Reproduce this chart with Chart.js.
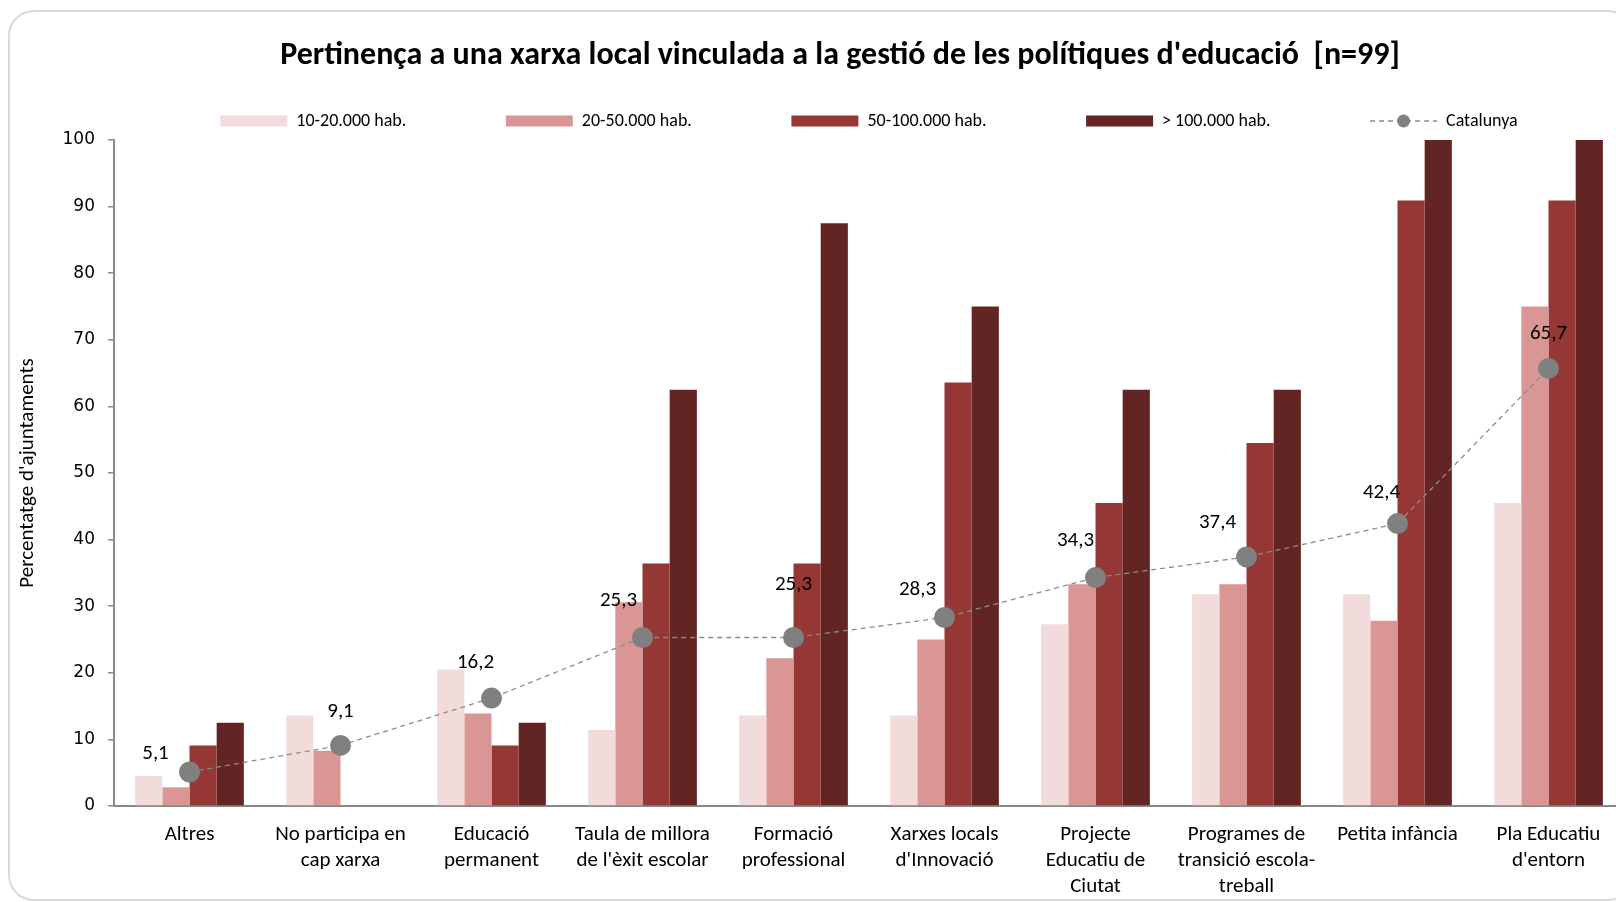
<!DOCTYPE html>
<html>
<head>
<meta charset="utf-8">
<script src="https://cdn.jsdelivr.net/npm/chart.js@4.4.1/dist/chart.umd.min.js"></script>
<style>
  html, body { margin: 0; padding: 0; background: #fff; overflow: hidden; width: 1616px; height: 902px; }
  .card { position: absolute; left: 8px; top: 10px; width: 1626px; height: 891px; border: 2px solid #d9d9d9; border-radius: 26px; box-sizing: border-box; }
  #chart { position: absolute; left: 0; top: 0; width: 1680px; height: 902px; }
</style>
</head>
<body>
<div class="card"></div>
<canvas id="chart" width="1680" height="902"></canvas>
<script>
/* Pertinença a una xarxa local — bars per mida de municipi + línia Catalunya */
const FONT = 'Carlito, Lato, sans-serif';
const TITLE = "Pertinença a una xarxa local vinculada a la gestió de les polítiques d'educació  [n=99]";

const categories = [
  ['Altres'],
  ['No participa en', 'cap xarxa'],
  ['Educació', 'permanent'],
  ['Taula de millora', "de l'èxit escolar"],
  ['Formació', 'professional'],
  ['Xarxes locals', "d'Innovació"],
  ['Projecte', 'Educatiu de', 'Ciutat'],
  ['Programes de', 'transició escola-', 'treball'],
  ['Petita infància'],
  ['Pla Educatiu', "d'entorn"]
];
const seriesNames = ['10-20.000 hab.', '20-50.000 hab.', '50-100.000 hab.', '> 100.000 hab.', 'Catalunya'];
const hab10_20 = [4.5, 13.6, 20.5, 11.4, 13.6, 13.6, 27.3, 31.8, 31.8, 45.5];
const hab20_50 = [2.8, 8.3, 13.9, 30.6, 22.2, 25.0, 33.3, 33.3, 27.8, 75.0];
const hab50_100 = [9.1, 0, 9.1, 36.4, 36.4, 63.6, 45.5, 54.5, 90.9, 90.9];
const hab100 = [12.5, 0, 12.5, 62.5, 87.5, 75.0, 62.5, 62.5, 100, 100];
const catalunya = [5.1, 9.1, 16.2, 25.3, 25.3, 28.3, 34.3, 37.4, 42.4, 65.7];
const yTicks = [0, 10, 20, 30, 40, 50, 60, 70, 80, 90, 100];

// nudges for the Catalunya value labels, relative to each point (px)
const labelNudge = [[-34, -18], [0, -34], [-16, -35], [-24, -37], [0, -53], [-27, -28], [-20, -37], [-29, -34], [-16, -31], [0, -35]];

const barColors = ['#f2dcdb', '#d99694', '#953735', '#632523'];
const lineColor = '#8c8c8c';
const dotColor = '#808080';

// legend icon for the line series: dashed line with a dot
const catIcon = document.createElement('canvas');
catIcon.width = 67; catIcon.height = 14;
(() => {
  const c = catIcon.getContext('2d');
  c.strokeStyle = lineColor; c.lineWidth = 1.3; c.setLineDash([5, 4]);
  c.beginPath(); c.moveTo(0, 7); c.lineTo(67, 7); c.stroke();
  c.fillStyle = dotColor; c.beginPath(); c.arc(33.5, 7, 6.5, 0, Math.PI * 2); c.fill();
})();

const titlePlugin = {
  id: 'cardTitle',
  afterDraw(chart) {
    const c = chart.ctx;
    c.save();
    c.font = 'bold 32px ' + FONT;
    c.fillStyle = '#000';
    c.textAlign = 'center';
    c.textBaseline = 'middle';
    c.fillText(TITLE, chart.width / 2, 56);
    c.restore();
  }
};

const valueLabels = {
  id: 'valueLabels',
  afterDatasetsDraw(chart) {
    const idx = chart.data.datasets.length - 1;
    const meta = chart.getDatasetMeta(idx);
    const c = chart.ctx;
    c.save();
    c.font = '21px ' + FONT;
    c.fillStyle = '#000';
    c.textAlign = 'center';
    c.textBaseline = 'middle';
    meta.data.forEach((pt, i) => {
      const txt = catalunya[i].toFixed(1).replace('.', ',');
      c.fillText(txt, pt.x + labelNudge[i][0], pt.y + labelNudge[i][1]);
    });
    c.restore();
  }
};

const barSets = [hab10_20, hab20_50, hab50_100, hab100].map((d, i) => ({
  label: seriesNames[i],
  data: d,
  backgroundColor: barColors[i],
  borderWidth: 0,
  categoryPercentage: 0.72,
  barPercentage: 1.0
}));

new Chart(document.getElementById('chart'), {
  type: 'bar',
  data: {
    labels: categories,
    datasets: [
      ...barSets,
      {
        type: 'line',
        label: seriesNames[4],
        data: catalunya,
        borderColor: lineColor,
        borderWidth: 1.3,
        borderDash: [5, 4],
        pointRadius: 10.5,
        pointHoverRadius: 10.5,
        pointBackgroundColor: dotColor,
        pointBorderWidth: 0,
        fill: false,
        tension: 0,
        order: -1
      }
    ]
  },
  plugins: [titlePlugin, valueLabels],
  options: {
    responsive: false,
    animation: false,
    layout: { padding: { top: 12.5, left: 0, right: 56, bottom: 0 } },
    plugins: {
      title: { display: false },
      tooltip: { enabled: false },
      legend: {
        fullSize: false,
        labels: {
          usePointStyle: true,
          pointStyleWidth: 67,
          boxHeight: 11,
          padding: 99.5,
          color: '#000',
          font: { family: FONT, size: 18 },
          generateLabels: chart => chart.data.datasets.map((ds, i) => ({
            text: ds.label,
            fillStyle: ds.type === 'line' ? dotColor : ds.backgroundColor,
            strokeStyle: ds.type === 'line' ? dotColor : ds.backgroundColor,
            lineWidth: 0,
            pointStyle: ds.type === 'line' ? catIcon : 'rect',
            fontColor: '#000',
            hidden: false,
            datasetIndex: i
          }))
        }
      }
    },
    scales: {
      x: {
        grid: { display: false, drawTicks: false },
        border: { color: '#898989', width: 2 },
        ticks: { color: '#000', font: { family: FONT, size: 21, lineHeight: 1.224 }, padding: 16, autoSkip: false, maxRotation: 0 },
        afterFit: s => { s.height = 96; }
      },
      y: {
        min: 0,
        max: 100,
        afterBuildTicks: s => { s.ticks = yTicks.map(v => ({ value: v })); },
        grid: { drawOnChartArea: false, drawTicks: true, tickLength: 6, color: '#898989', lineWidth: 1.5 },
        border: { color: '#898989', width: 2 },
        ticks: { color: '#000', font: { family: 'DejaVu Sans', size: 17 }, padding: 13 },
        title: { display: true, text: "Percentatge d'ajuntaments", color: '#000', font: { family: FONT, size: 21, lineHeight: 1.2 }, padding: { top: 15.5, bottom: 0 } },
        afterFit: s => { s.width = 114; }
      }
    }
  }
});
</script>
</body>
</html>
